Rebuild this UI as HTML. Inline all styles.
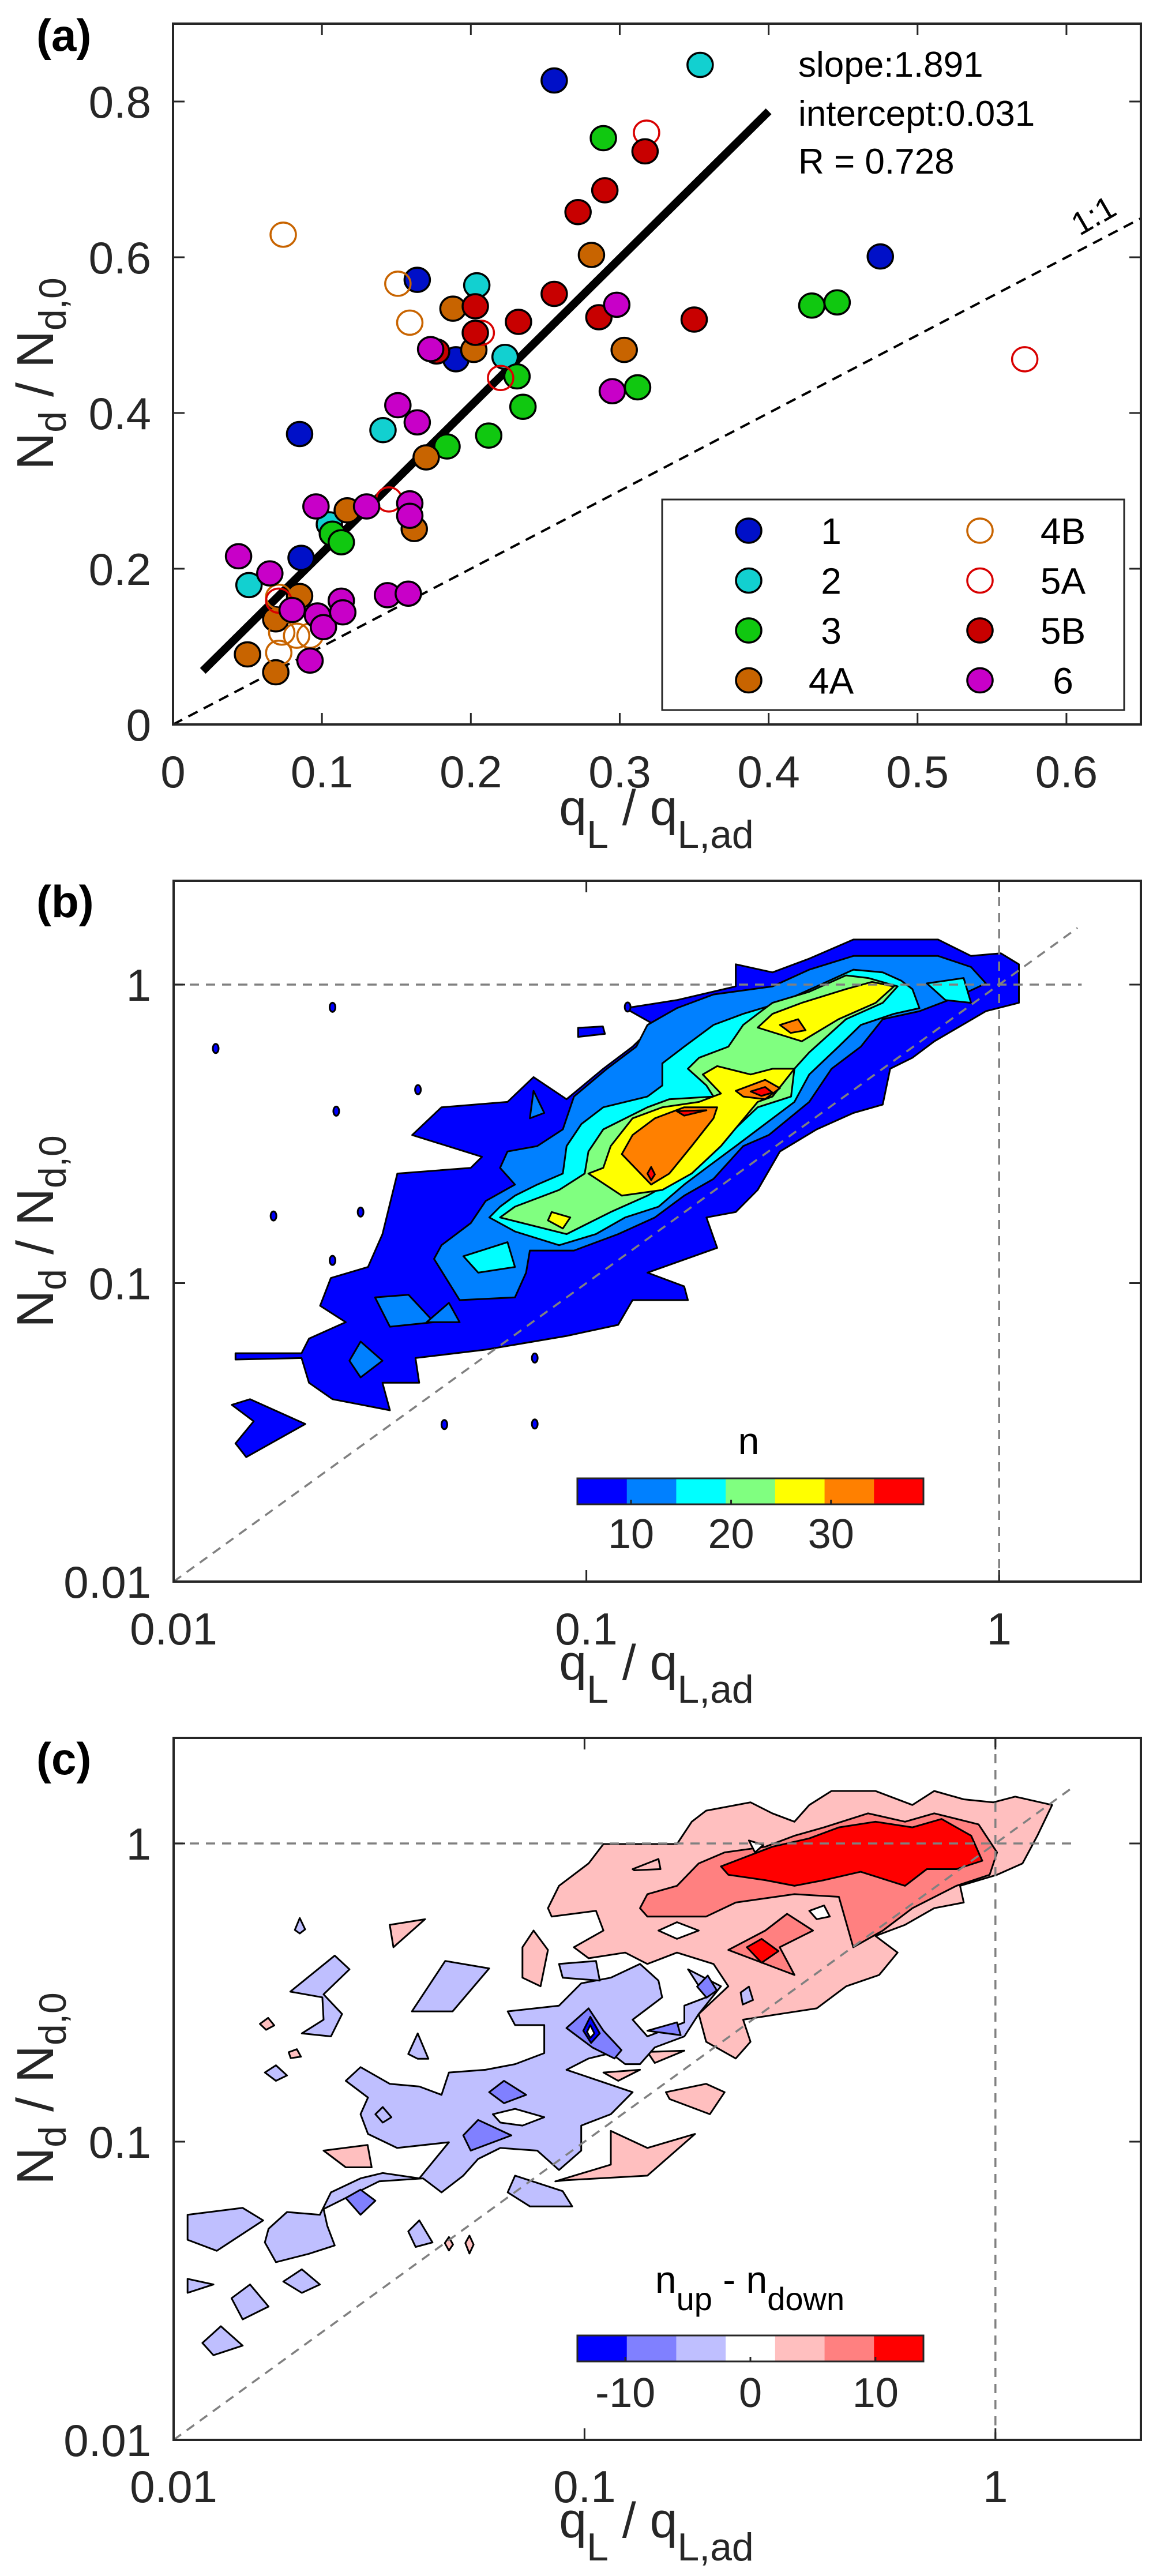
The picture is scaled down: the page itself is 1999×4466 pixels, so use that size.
<!DOCTYPE html>
<html><head><meta charset="utf-8"><style>
html,body{margin:0;padding:0;background:#fff}
svg{display:block;font-family:"Liberation Sans",Arial,sans-serif}
</style></head><body>
<svg id="fig" width="1999" height="4466" viewBox="0 0 1999 4466" xmlns="http://www.w3.org/2000/svg"></svg>
<script>
// ---------- Panel (a) data ----------
const groupNames=["1","2","3","4A","4B","5A","5B","6"];
const g1x=[0.256,0.164,0.190,0.085,0.086,0.475];
const g1y=[0.827,0.571,0.469,0.373,0.214,0.601];
const g2x=[0.354,0.204,0.223,0.141,0.105,0.051];
const g2y=[0.847,0.564,0.472,0.378,0.257,0.179];
const g3x=[0.289,0.231,0.235,0.212,0.184,0.312,0.429,0.446,0.107,0.113];
const g3y=[0.753,0.447,0.408,0.371,0.357,0.433,0.538,0.542,0.245,0.234];
const g4ax=[0.281,0.188,0.202,0.303,0.170,0.117,0.162,0.085,0.069,0.050,0.069];
const g4ay=[0.603,0.534,0.481,0.481,0.343,0.275,0.251,0.165,0.135,0.090,0.067];
const g4bx=[0.074,0.151,0.159,0.071,0.073,0.083,0.092,0.071];
const g4by=[0.629,0.566,0.516,0.164,0.118,0.114,0.114,0.092];
const g5ax=[0.318,0.207,0.220,0.145,0.071,0.572];
const g5ay=[0.760,0.503,0.445,0.289,0.159,0.469];
const g5bx=[0.317,0.290,0.272,0.256,0.232,0.203,0.203,0.286,0.350,0.177];
const g5by=[0.736,0.686,0.658,0.553,0.517,0.537,0.503,0.523,0.520,0.479];
const g6x=[0.173,0.151,0.164,0.298,0.295,0.096,0.130,0.159,0.159,0.044,0.065,0.080,0.097,0.101,0.113,0.114,0.144,0.158,0.092];
const g6y=[0.482,0.410,0.388,0.539,0.428,0.280,0.280,0.284,0.268,0.216,0.194,0.147,0.140,0.125,0.159,0.144,0.166,0.168,0.082];
const fitSlope=1.891, fitIntercept=0.031, fitR=0.728;
const fitRange=[0.02,0.4];
const aXTicks=[0,0.1,0.2,0.3,0.4,0.5,0.6];
const aXTickLabels=["0","0.1","0.2","0.3","0.4","0.5","0.6"];
const aYTicks=[0,0.2,0.4,0.6,0.8];
const aYTickLabels=["0","0.2","0.4","0.6","0.8"];
// ---------- Panel (b)/(c) log ticks ----------
const logTicks=[-2,-1,0];
const logTickLabels=["0.01","0.1","1"];
// ---------- Panel (b) contour polygons (log10 x, log10 y) ----------
const bLevelColors=["#0000ff","#0080ff","#00ffff","#80ff80","#ffff00","#ff8000","#ff0000"];
const bCbarLabels=["10","20","30"];
const bCbarTickPos=[1.085,3.11,5.13];
const bL1=[
[-1.850,-1.256,-1.690,-1.251,-1.672,-1.334,-1.615,-1.389,-1.476,-1.426,-1.494,-1.334,-1.405,-1.334,-1.414,-1.251,-1.244,-1.223,-1.048,-1.177,-0.923,-1.140,-0.888,-1.057,-0.754,-1.057,-0.763,-1.011,-0.852,-0.965,-0.683,-0.882,-0.709,-0.780,-0.638,-0.762,-0.585,-0.688,-0.531,-0.559,-0.442,-0.485,-0.353,-0.430,-0.282,-0.402,-0.264,-0.282,-0.210,-0.245,-0.157,-0.190,-0.032,-0.089,0.048,-0.061,0.048,0.068,0.004,0.105,-0.068,0.096,-0.148,0.151,-0.353,0.151,-0.460,0.087,-0.549,0.041,-0.638,0.068,-0.638,-0.006,-0.781,-0.052,-0.906,-0.079,-0.834,-0.135,-0.888,-0.208,-0.959,-0.282,-1.048,-0.384,-1.128,-0.310,-1.191,-0.393,-1.351,-0.411,-1.422,-0.504,-1.253,-0.577,-1.280,-0.614,-1.458,-0.633,-1.494,-0.836,-1.529,-0.946,-1.619,-0.983,-1.645,-1.076,-1.583,-1.131,-1.672,-1.186,-1.690,-1.235,-1.850,-1.235],
[-1.859,-1.408,-1.815,-1.389,-1.681,-1.472,-1.824,-1.583,-1.850,-1.537,-1.806,-1.463],
[-1.020,-0.145,-0.960,-0.140,-0.955,-0.165,-1.020,-0.175]
];
const bDots=[[-1.898,-0.214],[-1.615,-0.076],[-1.408,-0.352],[-1.606,-0.424],[-1.758,-0.775],[-1.547,-0.762],[-1.615,-0.924],[-1.125,-1.251],[-1.344,-1.474],[-1.125,-1.472],[-0.900,-0.075]];
const bL2=[
[-1.369,-0.919,-1.307,-1.057,-1.173,-1.048,-1.146,-0.965,-1.137,-0.891,-1.030,-0.891,-0.923,-0.836,-0.834,-0.780,-0.763,-0.707,-0.692,-0.651,-0.620,-0.541,-0.558,-0.504,-0.460,-0.393,-0.406,-0.282,-0.335,-0.208,-0.282,-0.116,-0.193,-0.089,-0.103,-0.042,-0.032,0.004,-0.068,0.059,-0.148,0.096,-0.353,0.096,-0.460,0.050,-0.549,-0.006,-0.692,-0.033,-0.781,-0.079,-0.852,-0.135,-0.879,-0.208,-0.950,-0.282,-1.030,-0.375,-1.057,-0.485,-1.119,-0.541,-1.191,-0.559,-1.209,-0.614,-1.173,-0.670,-1.244,-0.725,-1.280,-0.799,-1.351,-0.873],
[-1.512,-1.048,-1.431,-1.039,-1.369,-1.131,-1.476,-1.146],
[-1.387,-1.131,-1.333,-1.066,-1.307,-1.131],
[-1.574,-1.260,-1.547,-1.196,-1.494,-1.260,-1.547,-1.316],
[-1.128,-0.356,-1.102,-0.430,-1.137,-0.448]
];
const bL3=[
[-1.235,-0.780,-1.173,-0.827,-1.066,-0.873,-0.977,-0.836,-0.906,-0.780,-0.825,-0.744,-0.763,-0.670,-0.709,-0.614,-0.638,-0.541,-0.567,-0.467,-0.496,-0.393,-0.460,-0.301,-0.389,-0.208,-0.335,-0.135,-0.255,-0.098,-0.193,-0.079,-0.210,-0.015,-0.237,0.013,-0.282,0.041,-0.353,0.050,-0.442,-0.006,-0.531,-0.061,-0.620,-0.098,-0.692,-0.135,-0.763,-0.208,-0.816,-0.264,-0.816,-0.338,-0.852,-0.375,-0.959,-0.411,-1.012,-0.467,-1.048,-0.541,-1.057,-0.633,-1.119,-0.670,-1.173,-0.707,-1.209,-0.744],
[-1.298,-0.910,-1.191,-0.863,-1.173,-0.946,-1.262,-0.965],
[-0.175,0.004,-0.086,0.022,-0.068,-0.061,-0.130,-0.052]
];
const bL4=[
[-1.209,-0.780,-1.048,-0.836,-0.941,-0.762,-0.852,-0.707,-0.781,-0.651,-0.727,-0.596,-0.656,-0.504,-0.585,-0.411,-0.504,-0.375,-0.496,-0.282,-0.460,-0.227,-0.371,-0.116,-0.282,-0.061,-0.246,-0.006,-0.317,0.022,-0.371,0.031,-0.460,-0.024,-0.549,-0.061,-0.585,-0.098,-0.620,-0.135,-0.656,-0.208,-0.727,-0.245,-0.754,-0.282,-0.709,-0.338,-0.692,-0.375,-0.799,-0.384,-0.852,-0.411,-0.959,-0.485,-0.995,-0.559,-1.004,-0.633,-1.066,-0.688,-1.173,-0.744]
];
const bL5=[
[-0.995,-0.633,-0.914,-0.707,-0.816,-0.688,-0.745,-0.633,-0.674,-0.541,-0.585,-0.393,-0.549,-0.375,-0.496,-0.282,-0.549,-0.282,-0.602,-0.301,-0.683,-0.273,-0.718,-0.301,-0.674,-0.365,-0.727,-0.393,-0.816,-0.411,-0.888,-0.448,-0.941,-0.541,-0.959,-0.614],
[-0.585,-0.144,-0.478,-0.190,-0.389,-0.116,-0.299,-0.061,-0.255,-0.006,-0.308,0.009,-0.371,-0.015,-0.478,-0.061,-0.549,-0.098],
[-1.084,-0.762,-1.039,-0.780,-1.057,-0.817,-1.093,-0.790]
];
const bL6=[
[-0.914,-0.568,-0.843,-0.670,-0.799,-0.633,-0.745,-0.541,-0.692,-0.448,-0.683,-0.411,-0.763,-0.411,-0.834,-0.448,-0.888,-0.504],
[-0.638,-0.356,-0.567,-0.319,-0.531,-0.347,-0.567,-0.384,-0.620,-0.375],
[-0.531,-0.135,-0.487,-0.116,-0.469,-0.153,-0.505,-0.162]
];
const bL7=[
[-0.602,-0.358,-0.567,-0.343,-0.549,-0.362,-0.576,-0.373],
[-0.781,-0.424,-0.709,-0.421,-0.763,-0.439],
[-0.852,-0.633,-0.843,-0.611,-0.834,-0.636,-0.843,-0.655]
];
// ---------- Panel (c) contour polygons ----------
const cColors={lb:"#bfbfff",mb:"#8080ff",db:"#0000ff",lp:"#ffbfbf",mp:"#ff8080",rd:"#ff0000"};
const cCbarColors=["#0000ff","#8080ff","#bfbfff","#ffffff","#ffbfbf","#ff8080","#ff0000"];
const cCbarLabels=["-10","0","10"];
const cCbarTickPos=[0.97,3.5,6.03];
const cLP=[
[-1.080,-0.245,-0.972,-0.226,-0.954,-0.292,-1.026,-0.348,-0.990,-0.385,-0.901,-0.366,-0.847,-0.404,-0.775,-0.366,-0.686,-0.404,-0.650,-0.479,-0.722,-0.572,-0.704,-0.665,-0.632,-0.721,-0.596,-0.665,-0.614,-0.591,-0.525,-0.572,-0.435,-0.553,-0.363,-0.479,-0.283,-0.441,-0.238,-0.366,-0.292,-0.310,-0.220,-0.273,-0.149,-0.217,-0.077,-0.198,-0.086,-0.142,0.004,-0.105,0.066,-0.067,0.102,0.026,0.138,0.129,0.048,0.157,-0.005,0.138,-0.077,0.148,-0.149,0.176,-0.202,0.129,-0.292,0.176,-0.399,0.176,-0.453,0.129,-0.489,0.073,-0.543,0.101,-0.596,0.138,-0.704,0.110,-0.739,0.073,-0.775,-0.002,-0.954,-0.002,-0.990,-0.067,-1.062,-0.142,-1.089,-0.217],
[-1.071,-1.133,-0.936,-1.077,-0.936,-0.964,-0.847,-1.021,-0.731,-0.974,-0.847,-1.114,-1.044,-1.129],
[-0.802,-0.834,-0.704,-0.806,-0.659,-0.834,-0.695,-0.908,-0.793,-0.857],
[-1.151,-0.348,-1.124,-0.292,-1.089,-0.357,-1.107,-0.479,-1.151,-0.450],
[-1.474,-0.273,-1.388,-0.254,-1.465,-0.348],
[-1.635,-1.030,-1.528,-1.011,-1.518,-1.086,-1.581,-1.086],
[-0.847,-0.699,-0.757,-0.695,-0.829,-0.736],
[-0.954,-0.768,-0.865,-0.759,-0.918,-0.796],
[-0.883,-0.086,-0.820,-0.052,-0.815,-0.086,-0.879,-0.090],
[-1.790,-0.605,-1.770,-0.585,-1.755,-0.610,-1.775,-0.625],
[-1.720,-0.700,-1.700,-0.690,-1.690,-0.715,-1.715,-0.720],
[-1.340,-1.340,-1.330,-1.320,-1.320,-1.345,-1.330,-1.365],
[-1.290,-1.340,-1.280,-1.315,-1.270,-1.345,-1.280,-1.375]
];
const cMP=[
[-0.865,-0.217,-0.847,-0.245,-0.704,-0.245,-0.632,-0.198,-0.489,-0.170,-0.381,-0.179,-0.346,-0.348,-0.274,-0.292,-0.202,-0.217,-0.095,-0.142,-0.014,-0.105,0.004,-0.030,-0.041,0.064,-0.149,0.101,-0.220,0.073,-0.310,0.101,-0.417,0.054,-0.489,0.026,-0.560,-0.011,-0.659,-0.030,-0.722,-0.067,-0.775,-0.142,-0.847,-0.170],
[-0.650,-0.357,-0.560,-0.292,-0.507,-0.236,-0.444,-0.292,-0.525,-0.348,-0.489,-0.441,-0.560,-0.404]
];
const cRD=[
[-0.668,-0.077,-0.543,-0.011,-0.453,0.017,-0.381,0.054,-0.292,0.073,-0.202,0.054,-0.131,0.082,-0.059,0.026,-0.032,-0.058,-0.095,-0.086,-0.167,-0.086,-0.220,-0.142,-0.328,-0.095,-0.417,-0.123,-0.489,-0.142,-0.560,-0.123,-0.650,-0.105],
[-0.605,-0.348,-0.569,-0.320,-0.528,-0.361,-0.569,-0.400]
];
const cWhiteInPink=[
[-0.820,-0.292,-0.775,-0.264,-0.722,-0.292,-0.775,-0.320],
[-0.453,-0.226,-0.417,-0.208,-0.403,-0.245,-0.435,-0.254],
[-0.600,0.010,-0.565,-0.005,-0.585,-0.030]
];
const cLB=[
[-1.187,-0.563,-1.062,-0.544,-1.008,-0.469,-0.936,-0.450,-0.865,-0.404,-0.820,-0.460,-0.811,-0.516,-0.883,-0.591,-0.847,-0.647,-0.757,-0.600,-0.757,-0.544,-0.704,-0.516,-0.748,-0.422,-0.668,-0.479,-0.722,-0.572,-0.757,-0.647,-0.829,-0.684,-0.865,-0.740,-0.901,-0.740,-0.936,-0.703,-0.990,-0.721,-1.044,-0.759,-0.883,-0.834,-0.936,-0.908,-1.008,-0.946,-1.008,-1.030,-1.062,-1.095,-1.115,-1.030,-1.205,-1.021,-1.259,-1.058,-1.295,-1.114,-1.348,-1.170,-1.393,-1.123,-1.500,-1.133,-1.635,-1.226,-1.626,-1.282,-1.608,-1.348,-1.671,-1.376,-1.751,-1.404,-1.778,-1.338,-1.769,-1.292,-1.724,-1.236,-1.644,-1.245,-1.617,-1.170,-1.545,-1.123,-1.491,-1.105,-1.402,-1.123,-1.330,-1.002,-1.456,-1.021,-1.527,-0.974,-1.545,-0.908,-1.527,-0.852,-1.581,-0.796,-1.545,-0.750,-1.474,-0.806,-1.402,-0.815,-1.348,-0.843,-1.330,-0.768,-1.241,-0.759,-1.169,-0.740,-1.098,-0.703,-1.098,-0.609,-1.169,-0.609],
[-1.966,-1.245,-1.832,-1.222,-1.782,-1.264,-1.895,-1.366,-1.966,-1.329],
[-1.716,-0.497,-1.608,-0.376,-1.572,-0.422,-1.635,-0.506,-1.590,-0.572,-1.617,-0.647,-1.688,-0.637,-1.635,-0.591,-1.638,-0.516],
[-1.420,-0.563,-1.339,-0.394,-1.232,-0.419,-1.321,-0.563],
[-1.062,-0.404,-0.972,-0.394,-0.963,-0.460,-1.053,-0.450],
[-1.966,-1.460,-1.903,-1.479,-1.966,-1.507],
[-1.859,-1.525,-1.814,-1.479,-1.769,-1.553,-1.832,-1.596],
[-1.733,-1.469,-1.688,-1.428,-1.644,-1.479,-1.688,-1.507],
[-1.930,-1.675,-1.885,-1.619,-1.832,-1.684,-1.903,-1.716],
[-1.429,-1.301,-1.402,-1.264,-1.370,-1.338,-1.411,-1.353],
[-1.429,-0.706,-1.406,-0.637,-1.380,-0.722,-1.406,-0.722],
[-1.187,-1.170,-1.169,-1.114,-1.053,-1.166,-1.030,-1.217,-1.133,-1.217],
[-1.778,-0.768,-1.751,-0.744,-1.724,-0.778,-1.751,-0.796],
[-1.705,-0.290,-1.693,-0.250,-1.680,-0.288,-1.693,-0.302],
[-1.509,-0.908,-1.491,-0.884,-1.470,-0.918,-1.491,-0.936],
[-0.620,-0.500,-0.600,-0.480,-0.590,-0.525,-0.615,-0.540]
];
const cMB=[
[-1.044,-0.619,-0.990,-0.553,-0.954,-0.628,-0.910,-0.693,-0.927,-0.721,-0.981,-0.684],
[-1.295,-0.979,-1.259,-0.927,-1.178,-0.979,-1.277,-1.030],
[-1.581,-1.189,-1.545,-1.161,-1.509,-1.198,-1.545,-1.245],
[-1.232,-0.834,-1.196,-0.796,-1.142,-0.843,-1.196,-0.871],
[-0.726,-0.480,-0.700,-0.443,-0.678,-0.493,-0.703,-0.517],
[-0.847,-0.628,-0.775,-0.600,-0.766,-0.643]
];
const cDB=[[-1.003,-0.628,-0.986,-0.581,-0.963,-0.637,-0.984,-0.669]];
const cWhiteInBlue=[
[-0.994,-0.632,-0.986,-0.609,-0.976,-0.637,-0.986,-0.652],
[-1.223,-0.908,-1.169,-0.890,-1.098,-0.918,-1.151,-0.946,-1.205,-0.936]
];

// ---------- drawing helpers ----------
const NS="http://www.w3.org/2000/svg";
const svg=document.getElementById('fig');
function mk(tag,attrs,parent){const e=document.createElementNS(NS,tag);for(const k in attrs)e.setAttribute(k,attrs[k]);(parent||svg).appendChild(e);return e;}
const INK="#262626";
// panel a axis functions
const A={l:300,r:1978,t:41,b:1256};
const ax=v=>A.l+v/0.65*(A.r-A.l);
const ay=v=>A.b-v/0.9*(A.b-A.t);
// panel b
const B={l:301,r:1978,t:1527,b:2742};
const bx=l=>B.l+(l+2)*715.6;
const by=l=>B.b-(l+2)*517.5;
// panel c
const C={l:301,r:1978,t:3013,b:4230};
const cx=l=>C.l+(l+2)*712.4;
const cy=l=>C.b-(l+2)*517;

function txt(x,y,s,size,anchor,name,parent,extra){
  const t=mk('text',Object.assign({x:x,y:y,'font-size':size,'text-anchor':anchor||'middle',fill:INK},extra||{}),parent);
  t.textContent=s;
  
  
  return t;
}
function frame(P,name){
  const r=mk('rect',{x:P.l,y:P.t,width:P.r-P.l,height:P.b-P.t,fill:'none',stroke:INK,'stroke-width':4});
  
  
}
function tickX(P,x,name){
  const t=mk('path',{d:`M${x},${P.b}V${P.b-20}M${x},${P.t}V${P.t+20}`,stroke:INK,'stroke-width':3});
  
  
}
function tickY(P,y,name){
  const t=mk('path',{d:`M${P.l},${y}H${P.l+20}M${P.r},${y}H${P.r-20}`,stroke:INK,'stroke-width':3});
  
  
}
function poly(flat,fx,fy,fill,name,g){
  let pts=[];for(let i=0;i<flat.length;i+=2)pts.push(fx(flat[i]).toFixed(1)+','+fy(flat[i+1]).toFixed(1));
  const p=mk('polygon',{points:pts.join(' '),fill:fill,stroke:'#000','stroke-width':3,'stroke-linejoin':'round'},g);
  
  
}
function ylabel(cxp,cyp,name){
  const t=mk('text',{transform:`translate(${cxp},${cyp}) rotate(-90)`,'font-size':90,'text-anchor':'middle',fill:INK});
  t.innerHTML='N<tspan dy="22" font-size="66">d</tspan><tspan dy="-22"> / N</tspan><tspan dy="22" font-size="66">d,0</tspan>';
  
  
}
function xlabel(cxp,y,name){
  const t=mk('text',{x:cxp,y:y,'font-size':86,'text-anchor':'middle',fill:INK});
  t.innerHTML='q<tspan dy="40" font-size="68">L</tspan><tspan dy="-40"> / q</tspan><tspan dy="40" font-size="68">L,ad</tspan>';
  
  
}

// ================= Panel (a) =================
const ga=mk('g',{});


// 1:1 line
const one=mk('line',{x1:ax(0),y1:ay(0),x2:ax(0.65),y2:ay(0.65),stroke:'#000','stroke-width':4,'stroke-dasharray':'18,12'},ga);


txt(0,0,'1:1',56,'middle','one-to-one-label',ga,{transform:`translate(${ax(0.625)-8},${ay(0.625)-22}) rotate(-30)`,fill:'#000'});
// fit line
const fit=mk('line',{x1:ax(fitRange[0]),y1:ay(fitIntercept+fitSlope*fitRange[0]),x2:ax(fitRange[1]),y2:ay(fitIntercept+fitSlope*fitRange[1]),stroke:'#000','stroke-width':14},ga);


// points
const groups=[
 {n:'1',x:g1x,y:g1y,fill:'#0010c8',stroke:'#000'},
 {n:'2',x:g2x,y:g2y,fill:'#12d0d0',stroke:'#000'},
 {n:'3',x:g3x,y:g3y,fill:'#10c810',stroke:'#000'},
 {n:'4A',x:g4ax,y:g4ay,fill:'#c86400',stroke:'#000'},
 {n:'4B',x:g4bx,y:g4by,fill:'none',stroke:'#c86400'},
 {n:'5A',x:g5ax,y:g5ay,fill:'none',stroke:'#d80000'},
 {n:'5B',x:g5bx,y:g5by,fill:'#c80000',stroke:'#000'},
 {n:'6',x:g6x,y:g6y,fill:'#c800c8',stroke:'#000'}
];
groups.forEach(G=>{
  G.x.forEach((v,i)=>{
    const c=mk('ellipse',{cx:ax(v),cy:ay(G.y[i]),rx:22,ry:21,fill:G.fill,stroke:G.stroke,'stroke-width':3.5},ga);
    
    
  });
});
frame(A,'panel-a-axes-box');
aXTicks.forEach((v,i)=>{tickX(A,ax(v),'x-tick');txt(ax(v),1365,aXTickLabels[i],78,'middle','x-tick-label',ga);});
aYTicks.forEach((v,i)=>{if(v>0)tickY(A,ay(v),'y-tick');txt(262,ay(v)+28,aYTickLabels[i],78,'end','y-tick-label',ga);});
txt(1384,133,'slope:'+fitSlope.toFixed(3),62,'start','slope-annotation',ga,{fill:'#000'});
txt(1384,218,'intercept:'+fitIntercept.toFixed(3),62,'start','intercept-annotation',ga,{fill:'#000'});
txt(1384,301,'R = '+fitR.toFixed(3),62,'start','r-annotation',ga,{fill:'#000'});
// legend
const lg=mk('g',{},ga);


const lb=mk('rect',{x:1148,y:866,width:801,height:365,fill:'#fff',stroke:INK,'stroke-width':3},lg);


groups.forEach((G,i)=>{
  const col=i<4?0:1,row=i%4;
  const mx=col?1699:1298, my=920+row*86.5;
  const c=mk('ellipse',{cx:mx,cy:my,rx:22,ry:21,fill:G.fill,stroke:G.stroke,'stroke-width':3.5},lg);
  
  
  txt(col?1843:1441,my+23,groupNames[i],64,'middle','legend-entry-'+G.n.toLowerCase(),lg,{fill:'#000'});
});
ylabel(92,648,'panel-a-y-axis-title');
xlabel(1138,1430,'panel-a-x-axis-title');
txt(63,88,'(a)',78,'start','panel-a-label',ga,{'font-weight':'bold',fill:'#000'});

// ================= Panel (b) =================
const gb=mk('g',{});


const bLevels=[bL1,bL2,bL3,bL4,bL5,bL6,bL7];
bLevels.forEach((L,k)=>L.forEach(p=>poly(p,bx,by,bLevelColors[k],'contour-level-'+(k+1),gb)));
bDots.forEach(d=>{
  const e=mk('ellipse',{cx:bx(d[0]),cy:by(d[1]),rx:5,ry:8,fill:'#0000ff',stroke:'#000','stroke-width':3},gb);
  
  
});
function refLines(P,fx,fy,g,prefix){
  const d=[`M${P.l},${fy(0)}H${fx(0.2)}`,`M${fx(0)},${P.t}V${P.b}`,`M${fx(-2)},${fy(-2)}L${fx(0.19)},${fy(0.19)}`];
  const names=['horizontal-reference-line','vertical-reference-line','one-to-one-line'];
  d.forEach((s,i)=>{
    const p=mk('path',{d:s,stroke:'#808080','stroke-width':3.5,'stroke-dasharray':'16,12',fill:'none'},g);
    
    
  });
}
refLines(B,bx,by,gb,'panel-b-');
frame(B,'panel-b-axes-box');
logTicks.forEach((v,i)=>{tickX(B,bx(v),'x-tick');tickY(B,by(v),'y-tick');
  txt(bx(v),2851,logTickLabels[i],78,'middle','x-tick-label',gb);
  txt(262,by(v)+28,logTickLabels[i],78,'end','y-tick-label',gb);});
// colorbar b
const cbb={x:1001,y:2563,w:600,h:45};
bLevelColors.forEach((c,i)=>{
  const r=mk('rect',{x:cbb.x+i*cbb.w/7,y:cbb.y,width:cbb.w/7+0.5,height:cbb.h,fill:c},gb);
  
  
});
const cbf=mk('rect',{x:cbb.x,y:cbb.y,width:cbb.w,height:cbb.h,fill:'none',stroke:INK,'stroke-width':3},gb);


bCbarLabels.forEach((s,i)=>{const x=cbb.x+bCbarTickPos[i]*cbb.w/7;
  const t=mk('path',{d:`M${x},${cbb.y+cbb.h}v-8`,stroke:INK,'stroke-width':3},gb);
  
  
  txt(x,2684,s,72,'middle','colorbar-tick-label',gb);});
txt(1298,2521,'n',66,'middle','colorbar-b-title',gb,{fill:'#000'});
ylabel(92,2135,'panel-b-y-axis-title');
xlabel(1138,2912,'panel-b-x-axis-title');
txt(63,1590,'(b)',78,'start','panel-b-label',gb,{'font-weight':'bold',fill:'#000'});

// ================= Panel (c) =================
const gc=mk('g',{});


cLP.forEach(p=>poly(p,cx,cy,cColors.lp,'contour-positive-1',gc));
cMP.forEach(p=>poly(p,cx,cy,cColors.mp,'contour-positive-2',gc));
cRD.forEach(p=>poly(p,cx,cy,cColors.rd,'contour-positive-3',gc));
cWhiteInPink.forEach(p=>poly(p,cx,cy,'#ffffff','contour-zero-hole',gc));
cLB.forEach(p=>poly(p,cx,cy,cColors.lb,'contour-negative-1',gc));
cMB.forEach(p=>poly(p,cx,cy,cColors.mb,'contour-negative-2',gc));
cDB.forEach(p=>poly(p,cx,cy,cColors.db,'contour-negative-3',gc));
cWhiteInBlue.forEach(p=>poly(p,cx,cy,'#ffffff','contour-zero-hole',gc));
refLines(C,cx,cy,gc,'panel-c-');
frame(C,'panel-c-axes-box');
logTicks.forEach((v,i)=>{tickX(C,cx(v),'x-tick');tickY(C,cy(v),'y-tick');
  txt(cx(v),4338,logTickLabels[i],78,'middle','x-tick-label',gc);
  txt(262,cy(v)+28,logTickLabels[i],78,'end','y-tick-label',gc);});
const cbc={x:1001,y:4049,w:600,h:45};
cCbarColors.forEach((c,i)=>{
  const r=mk('rect',{x:cbc.x+i*cbc.w/7,y:cbc.y,width:cbc.w/7+0.5,height:cbc.h,fill:c},gc);
  
  
});
const cbf2=mk('rect',{x:cbc.x,y:cbc.y,width:cbc.w,height:cbc.h,fill:'none',stroke:INK,'stroke-width':3},gc);


cCbarLabels.forEach((s,i)=>{const x=cbc.x+cCbarTickPos[i]*cbc.w/7;
  const t=mk('path',{d:`M${x},${cbc.y+cbc.h}v-8`,stroke:INK,'stroke-width':3},gc);
  
  
  txt(x,4173,s,72,'middle','colorbar-tick-label',gc);});
const ct=mk('text',{x:1300,y:3975,'font-size':66,'text-anchor':'middle',fill:'#000'},gc);
ct.innerHTML='n<tspan dy="30" font-size="56">up</tspan><tspan dy="-30"> - n</tspan><tspan dy="30" font-size="56">down</tspan>';


ylabel(92,3621,'panel-c-y-axis-title');
xlabel(1138,4399,'panel-c-x-axis-title');
txt(63,3076,'(c)',78,'start','panel-c-label',gc,{'font-weight':'bold',fill:'#000'});
</script>
</body></html>
